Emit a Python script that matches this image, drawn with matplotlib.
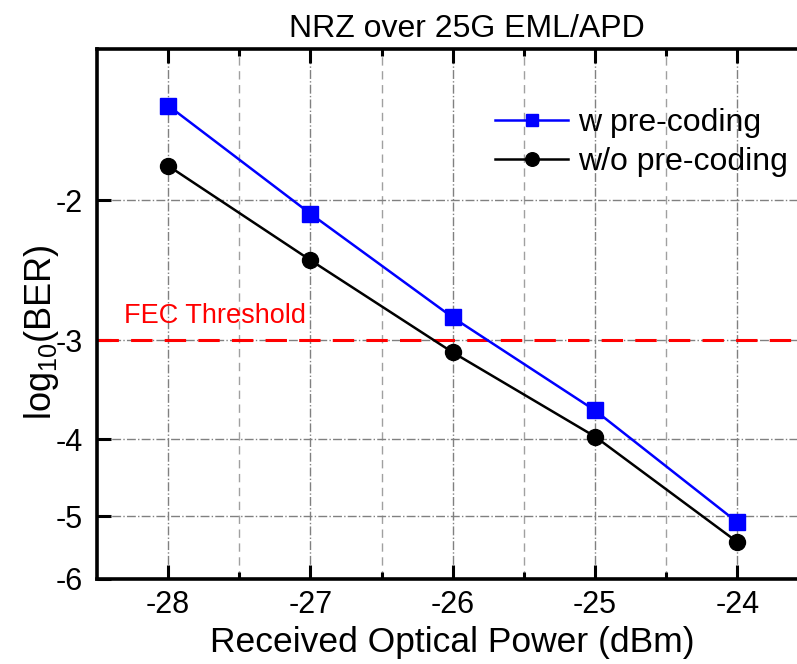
import numpy as np
import matplotlib
matplotlib.use("Agg")
import matplotlib.pyplot as plt

plt.rcParams["font.family"] = ["Liberation Sans", "DejaVu Sans"]
plt.rcParams["mathtext.fontset"] = "custom"
plt.rcParams["mathtext.rm"] = "Liberation Sans"
plt.rcParams["mathtext.default"] = "regular"
plt.rcParams["axes.unicode_minus"] = False

# Data
power_dbm = [-28, -27, -26, -25, -24]
ber_with_precoding = [-1.52, -2.08, -2.81, -3.68, -5.09]
ber_without_precoding = [-1.81, -2.38, -3.11, -3.97, -5.39]
fec_threshold = -3
y_ticks = [-2, -3, -4, -5, -6]
x_ticks = [-28, -27, -26, -25, -24]

W, H = 797, 664
fig = plt.figure(figsize=(W / 100, H / 100), dpi=100)
ax = fig.add_axes([97 / W, 85 / H, 711.5 / W, 530 / H])


# BER-style axis: log10(BER) values spaced by log10(-log10(BER))
def fwd(y):
    y = np.asarray(y, dtype=float)
    with np.errstate(invalid="ignore", divide="ignore"):
        return -np.log10(-y)


def inv(t):
    t = np.asarray(t, dtype=float)
    return -np.power(10.0, -t)


ax.set_yscale("function", functions=(fwd, inv))
ax.set_xlim(-28.5, -23.5)
ax.set_ylim(-6, -1.29)

ax.set_yticks(y_ticks)
ax.set_yticklabels([str(v) for v in y_ticks])
ax.yaxis.set_minor_locator(matplotlib.ticker.NullLocator())
ax.set_xticks(x_ticks)
ax.set_xticklabels([str(v) for v in x_ticks])
ax.set_xticks(np.array(x_ticks[:-1]) + 0.5, minor=True)

# Grid
ax.grid(True, which="major", axis="both", color="#808080", linestyle="-.", linewidth=1.0)
ax.grid(True, which="minor", axis="x", color="#a0a0a0", linestyle=(0, (6, 4)), linewidth=1.0)
ax.set_axisbelow(True)

for s in ax.spines.values():
    s.set_linewidth(2.6)

ax.tick_params(axis="both", which="major", direction="in", length=10, width=2.2,
               labelsize=22, top=True, right=False)
ax.tick_params(axis="x", which="minor", direction="in", length=5, width=2.2, top=True)
ax.tick_params(axis="x", which="major", pad=8)
ax.tick_params(axis="y", which="major", pad=10)

# FEC threshold
ax.axhline(fec_threshold, color="#ff0000", linestyle=(0, (7, 4)), linewidth=2.2, zorder=2)
fig.text(124 / W, (H - 323) / H, "FEC Threshold", color="#ff0000", fontsize=19.5,
         ha="left", va="baseline")

# Curves
ax.plot(power_dbm, ber_with_precoding, color="#0000ff", linewidth=1.8, marker="s",
        markersize=11, label="w pre-coding", zorder=4)
ax.plot(power_dbm, ber_without_precoding, color="black", linewidth=1.8, marker="o",
        markersize=11.5, label="w/o pre-coding", zorder=4)

leg = ax.legend(loc="upper left", bbox_to_anchor=(495 / W, (H - 108) / H),
                bbox_transform=fig.transFigure, frameon=False, fontsize=23,
                handlelength=2.3, handletextpad=0.3, labelspacing=0.28,
                borderpad=0, borderaxespad=0, markerscale=0.85)

fig.text(467 / W, (H - 37) / H, "NRZ over 25G EML/APD", fontsize=23,
         ha="center", va="baseline")
ax.set_xlabel("Received Optical Power (dBm)", fontsize=25.5, labelpad=4)
ax.set_ylabel("log$_{10}$(BER)", fontsize=26)
ax.yaxis.set_label_coords(-0.05, 0.465)

fig.savefig("out.png", dpi=100)
